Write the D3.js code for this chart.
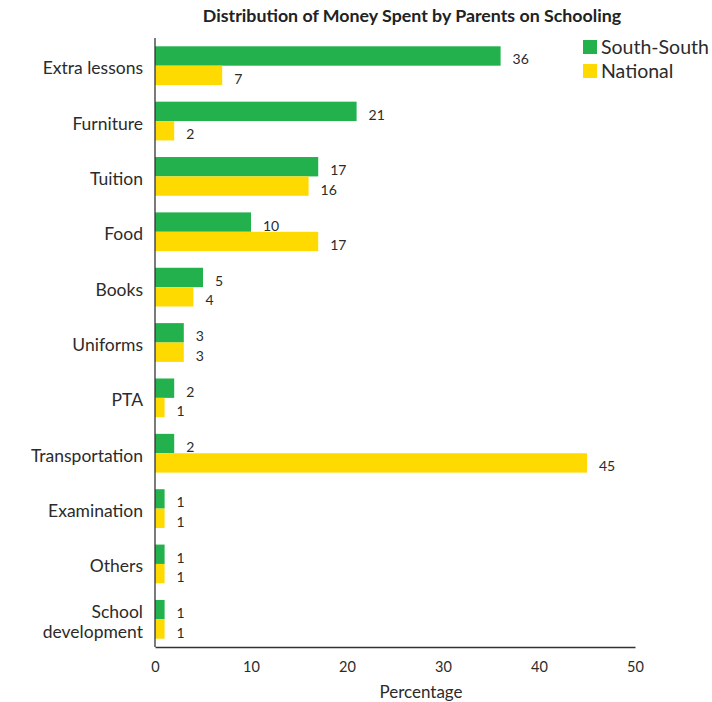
<!DOCTYPE html>
<html>
<head>
<meta charset="utf-8">
<script src="https://cdn.jsdelivr.net/npm/d3@7"></script>
<style>
  body { margin: 0; background: #fff; }
  svg { display: block; font-family: Lato, "Open Sans", sans-serif; }
</style>
</head>
<body>
<svg id="chart" width="712" height="702"></svg>
<script>
// Spending categories, top to bottom
const categories = ["Extra lessons", "Furniture", "Tuition", "Food", "Books", "Uniforms",
  "PTA", "Transportation", "Examination", "Others", "School development"];
// Share of money spent (%)
const southSouth = [36, 21, 17, 10, 5, 3, 2, 2, 1, 1, 1];
const national   = [7, 2, 16, 17, 4, 3, 1, 45, 1, 1, 1];
const seriesNames = ["South-South", "National"];
const seriesColors = ["#23b14d", "#ffda00"];
const xTicks = [0, 10, 20, 30, 40, 50];

const svg = d3.select("#chart");
const plotLeft = 155, plotRight = 635, plotTop = 38, plotBottom = 647;
const textColor = "#2b2b2b";

const x = d3.scaleLinear().domain([0, 50]).range([plotLeft, plotRight]);
const y = d3.scaleBand().domain(categories).range([plotTop, plotBottom])
  .paddingInner(0.3).paddingOuter(0.15);
const sub = d3.scaleBand().domain(seriesNames).range([0, y.bandwidth()]);

const rows = categories.map((c, i) => ({ cat: c, vals: [southSouth[i], national[i]] }));

// Title
svg.append("text")
  .attr("x", 412).attr("y", 22)
  .attr("text-anchor", "middle")
  .attr("font-weight", "bold").attr("font-size", 17.8)
  .attr("fill", "#222")
  .text("Distribution of Money Spent by Parents on Schooling");

// Bars and value labels
const g = svg.append("g");
rows.forEach(r => {
  r.vals.forEach((v, j) => {
    const yy = y(r.cat) + sub(seriesNames[j]);
    g.append("rect")
      .attr("x", x(0)).attr("y", yy)
      .attr("width", x(v) - x(0)).attr("height", sub.bandwidth())
      .attr("fill", seriesColors[j]);
    g.append("text")
      .attr("x", x(v) + 12).attr("y", yy + sub.bandwidth() / 2 + 8.5)
      .attr("font-size", 14).attr("fill", textColor)
      .text(v);
  });
});

// Category labels (the long one wraps onto two lines)
rows.forEach(r => {
  const cy = y(r.cat) + y.bandwidth() / 2;
  const t = svg.append("text")
    .attr("text-anchor", "end").attr("font-size", 17.5).attr("fill", textColor);
  if (r.cat === "School development") {
    t.append("tspan").attr("x", 143).attr("y", cy - 1).text("School");
    t.append("tspan").attr("x", 143).attr("y", cy + 19).text("development");
  } else {
    t.attr("x", 143).attr("y", cy + 8.5).text(r.cat);
  }
});

// Axes
const xAxis = d3.axisBottom(x).tickValues(xTicks).tickSize(0).tickPadding(15);
const ax = svg.append("g").attr("transform", `translate(0,${plotBottom})`).call(xAxis);
ax.select(".domain").attr("stroke", "#333").attr("stroke-width", 1.3);
ax.selectAll("text").attr("font-size", 14.5).attr("fill", textColor)
  .attr("font-family", "Lato, 'Open Sans', sans-serif");

svg.append("line")
  .attr("x1", plotLeft).attr("x2", plotLeft).attr("y1", plotTop).attr("y2", plotBottom)
  .attr("stroke", "#333").attr("stroke-width", 1.3);

svg.append("text")
  .attr("x", 421).attr("y", 698)
  .attr("text-anchor", "middle").attr("font-size", 17).attr("fill", textColor)
  .text("Percentage");

// Legend
const lg = svg.append("g");
seriesNames.forEach((n, i) => {
  const ly = 40 + i * 24;
  lg.append("rect").attr("x", 583).attr("y", ly).attr("width", 14).attr("height", 14)
    .attr("fill", seriesColors[i]);
  lg.append("text").attr("x", 601).attr("y", ly + 14)
    .attr("font-size", 19.5).attr("fill", textColor).text(n);
});
</script>
</body>
</html>
